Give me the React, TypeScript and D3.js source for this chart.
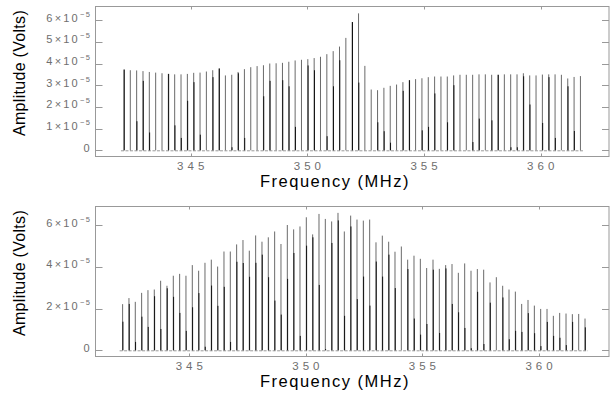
import * as d3 from "d3";

// spectral line amplitudes, in units of 1e-5 V
// each line: full height + the darker inner component
const topPeak = [3.72,3.69,3.68,3.65,3.61,3.58,3.55,3.52,3.50,3.50, 3.52,3.57,3.58,3.63,3.69,3.77,3.45,3.48,3.61,3.74, 3.83,3.88,3.92,4.00,4.01,4.03,4.08,4.14,4.17,4.20, 4.25,4.31,4.43,4.57,4.78,5.18,5.91,6.31,3.89,2.80, 2.77,2.88,2.97,3.03,3.14,3.23,3.28,3.32,3.37,3.40, 3.40,3.40,3.45,3.48,3.48,3.48,3.50,3.50,3.48,3.48, 3.50,3.50,3.50,3.55,3.45,3.45,3.49,3.50,3.50,3.48, 3.31,3.38,3.42];
const topInner = [3.72,0,1.34,3.20,0.82,0,0,3.52,1.15,0.57, 2.28,3.14,0.72,0,3.37,3.77,0,0.14,3.55,0.57, 0,0,2.49,3.20,0,3.23,2.95,1.08,0,3.91, 3.69,0,0.65,2.95,4.15,0,5.91,3.12,0,0, 1.29,0.88,0.35,0,2.74,3.23,0,0.92,1.08,2.62, 0,1.29,3.00,0,0,0.38,1.46,0,1.38,3.48, 0,0.14,0.14,3.41,2.11,0,1.26,3.37,0.57,0, 2.95,0.89,0];

const botPeak = [2.21,2.50,2.32,2.75,2.88,2.91,3.33,3.09,3.57,3.66, 3.57,4.08,3.81,4.19,4.34,4.01,4.73,4.73,5.07,5.28, 4.77,5.50,5.20,5.41,5.69,5.09,6.00,5.79,5.93,6.37, 5.55,6.53,6.29,6.17,6.58,5.69,6.45,6.26,6.21,6.26, 5.17,5.49,5.20,4.72,4.97,4.34,4.53,4.38,3.94,4.34, 3.90,4.08,4.13,3.71,4.16,3.81,3.89,3.86,3.25,3.50, 3.09,2.91,2.81,2.22,2.41,2.14,1.98,1.98,1.65,1.79, 1.76,1.73,1.74,1.52];
const botInner = [1.37,2.22,0.40,1.61,1.12,2.59,1.02,2.97,2.56,1.79, 0.93,2.06,2.74,0.17,3.10,2.13,3.04,0.40,4.24,4.18, 3.52,4.19,4.58,3.50,2.38,1.71,3.42,4.66,0.69,5.01, 5.41,3.13,0.06,5.14,6.22,1.65,5.93,2.45,3.53,2.14, 4.25,3.53,4.58,2.98,0,3.89,1.52,0.75,1.26,3.86, 0.83,3.92,2.22,1.82,1.07,0.10,2.80,0.30,2.28,0, 2.53,0.53,0.93,0.88,1.78,0.82,0.20,1.36,0.69,0.60, 0.25,1.36,0,1.10];

// lines sit on a regular comb
const f0 = 342.14;
const df = 0.2717;

const xTicks = [345, 350, 355, 360];
const topYTicks = [0, 1, 2, 3, 4, 5, 6];
const botYTicks = [0, 2, 4, 6];

const frameColor = "#999";
const labelColor = "#6e6e6e";
const font = "'Liberation Sans', Arial, sans-serif";

function Panel({ peak, inner, yTicks, dy, xr }: { peak: number[]; inner: number[]; yTicks: number[]; dy: number; xr: [number, number]; }) {
  const x = d3.scaleLinear().domain([345, 360]).range(xr);
  const y = d3.scaleLinear().domain([0, 6]).range(dy === 0 ? [150.3, 20.1] : [350.3, 225]);
  const left = 95.5, right = 609;
  const top = 6.5 + dy, bottom = 156.5 + dy;
  const freqs = peak.map((_, i) => f0 + i * df);

  return (
    <g>
      <rect x={left} y={top} width={right - left} height={bottom - top} fill="none" stroke={frameColor} strokeWidth={1} />
      {/* baseline noise */}
      <line x1={x(freqs[0]) - 3} x2={x(freqs[freqs.length - 1]) + 3} y1={y(0) + 0.5} y2={y(0) + 0.5}
        stroke="#999" strokeWidth={1} strokeDasharray="3,1.5" />
      {freqs.map((f, i) => (
        <g key={i}>
          <line x1={x(f)} x2={x(f)} y1={y(0)} y2={y(peak[i])} stroke="#444" strokeWidth={0.8} />
          {inner[i] > 0 && (
            <line x1={x(f) + 0.3} x2={x(f) + 0.3} y1={y(0)} y2={y(inner[i])} stroke="#000" strokeWidth={0.9} />
          )}
        </g>
      ))}
      {xTicks.map(t => (
        <g key={t}>
          <line x1={Math.round(x(t)) + 0.5} x2={Math.round(x(t)) + 0.5} y1={top} y2={top + 3} stroke={frameColor} />
          <line x1={Math.round(x(t)) + 0.5} x2={Math.round(x(t)) + 0.5} y1={bottom} y2={bottom - 3} stroke={frameColor} />
          <text x={x(t) + 2} y={170 + dy} textAnchor="middle" fontSize={11.5} letterSpacing={4}
            fill={labelColor} fontFamily={font}>{t}</text>
        </g>
      ))}
      {yTicks.map(t => (
        <g key={t}>
          <line x1={left} x2={left + 7} y1={Math.round(y(t)) + 0.5} y2={Math.round(y(t)) + 0.5} stroke={frameColor} />
          <line x1={right - 7} x2={right} y1={Math.round(y(t)) + 0.5} y2={Math.round(y(t)) + 0.5} stroke={frameColor} />
          <text x={t === 0 ? 92.5 : 91.5} y={y(t) + 1.5} textAnchor="end" fill={labelColor}
            fontFamily={font} fontSize={11} letterSpacing={t === 0 ? 3 : 2.2}>
            {t === 0 ? "0" : (
              <>
                {`${t}×10`}
                <tspan fontSize={7.5} dy={-5} letterSpacing={1.5}>−5</tspan>
              </>
            )}
          </text>
        </g>
      ))}
      <text transform={`translate(24.5,${73 + dy}) rotate(-90)`} textAnchor="middle" fontSize={16}
        letterSpacing={0.3} fontFamily={font} fill="#000">Amplitude (Volts)</text>
      <text x={335} y={186.5 + dy} textAnchor="middle" fontSize={16.5} letterSpacing={1.5}
        fontFamily={font} fill="#000">Frequency (MHz)</text>
    </g>
  );
}

export default function App() {
  return (
    <svg width={611} height={396} style={{ position: "absolute", left: 0, top: 0, background: "#fff" }}>
      <rect width={611} height={396} fill="#fff" />
      <Panel peak={topPeak} inner={topInner} yTicks={topYTicks} dy={0} xr={[190.7, 540.7]} />
      <Panel peak={botPeak} inner={botInner} yTicks={botYTicks} dy={200} xr={[189.3, 539]} />
    </svg>
  );
}
